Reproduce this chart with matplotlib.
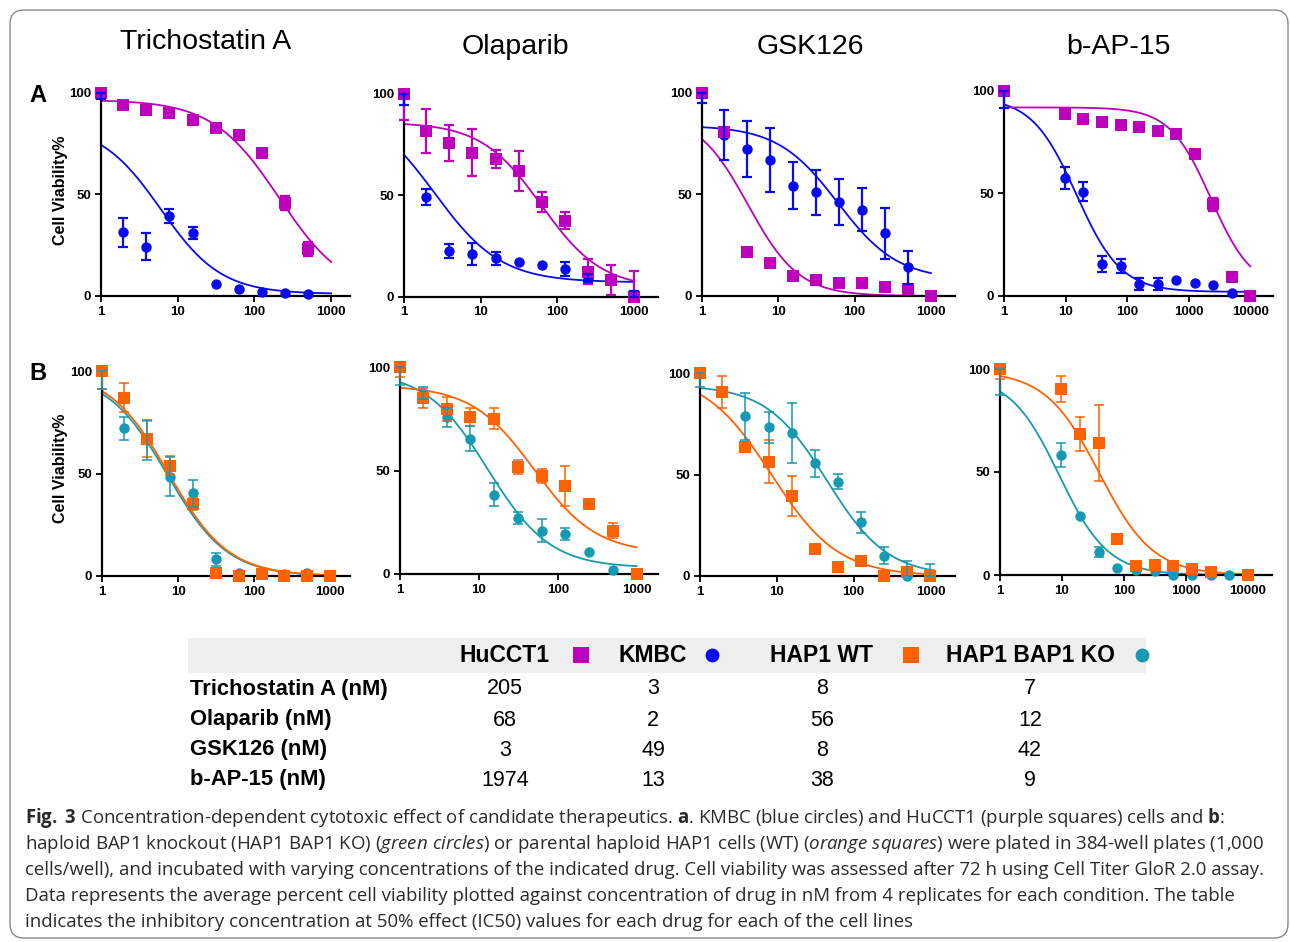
import numpy as np
import matplotlib.pyplot as plt
from matplotlib.patches import FancyBboxPatch, Rectangle
from matplotlib.lines import Line2D
from matplotlib.ticker import NullLocator
from matplotlib.transforms import IdentityTransform

plt.rcParams['font.family'] = ['Liberation Sans', 'DejaVu Sans']
plt.rcParams['mathtext.fontset'] = 'custom'
plt.rcParams['mathtext.rm'] = 'Open Sans'
plt.rcParams['mathtext.bf'] = 'Open Sans:bold'
plt.rcParams['mathtext.it'] = 'Open Sans:italic'

# concentrations (nM); first point is the untreated control drawn at 1
conc_1000 = [1, 1.95, 3.91, 7.81, 15.6, 31.3, 62.5, 125, 250, 500, 1000]
conc_10000 = [1, 9.77, 19.5, 39.1, 78.1, 156, 313, 625, 1250, 2500, 5000, 10000]

drugs = ["Trichostatin A", "Olaparib", "GSK126", "b-AP-15"]

# row A: HuCCT1 (squares) and KMBC (circles), viability % and SEM
tsa_hucct1 = [100, 93.9, 91.5, 90.2, 86.6, 82.5, 79.2, 70.2, 45.6, 23.0]
tsa_hucct1_err = [0, 0, 0, 0, 0, 0, 2, 0, 3.5, 3.5]
tsa_kmbc = [100, 31.3, 24.3, 39.5, 31.1, 5.7, 3.3, 2.1, 1.3, 1.0]
tsa_kmbc_err = [3.3, 7, 6.5, 3.5, 3, 0, 0, 0, 0, 0]

ola_hucct1 = [100, 81.7, 75.7, 71, 67.8, 62, 46.5, 37.5, 12.3, 8.2, 0]
ola_hucct1_err = [12.8, 10.8, 9, 11.6, 4.5, 10, 5, 4.4, 6.2, 7.4, 12.7]
ola_kmbc = [100, 49.3, 22.5, 20.9, 18.8, 16.9, 15.6, 13.7, 9, 8, 0]
ola_kmbc_err = [5.3, 4, 3.4, 5.5, 3.3, 0, 0, 3.5, 2, 0, 2.5]

gsk_hucct1 = [100, 80.7, 21.8, 16.1, 10, 7.9, 6.6, 6.2, 4.6, 3.4, 0]
gsk_hucct1_err = [0, 0, 0, 0, 0, 0, 0, 0, 0, 0, 0]
gsk_kmbc = [100, 79.2, 72.3, 66.9, 54.3, 51, 46.2, 42.6, 30.8, 14.1, 0]
gsk_kmbc_err = [5, 12.3, 13.8, 15.7, 11.5, 11, 11.2, 10.4, 12.6, 8, 0]

bap_hucct1 = [100, 88.6, 86.2, 84.7, 83.4, 82.6, 80.7, 79, 69.1, 44.7, 9.4, 0]
bap_hucct1_err = [0, 0, 0, 0, 0, 0, 0, 0, 0, 3, 0, 0]
bap_kmbc = [100, 57.7, 50.9, 15.6, 14.6, 6, 6, 7.8, 6.2, 5.4, 1.6, 0]
bap_kmbc_err = [8.5, 5.4, 4.7, 4, 3.4, 3, 3, 0, 0, 0, 0, 0]

# row B: HAP1 WT (squares) and HAP1 BAP1 KO (circles)
tsa_wt = [100, 87, 66.7, 53.7, 35.1, 1.6, 0, 0.8, 0.2, 0, 0]
tsa_wt_err = [9, 7, 8.8, 4.6, 3, 0, 0, 0, 0, 0, 0]
tsa_ko = [100, 72, 66.5, 48.5, 40.3, 8.1, 1.3, 1.6, 1, 1.3, 0]
tsa_ko_err = [9, 5.8, 9.8, 9.5, 6.5, 3, 0, 0, 0, 0, 0]

ola_wt = [100, 85, 79.7, 75.8, 75, 51.7, 47.5, 42.7, 34, 20.9, 0]
ola_wt_err = [4.7, 4.7, 6, 4.2, 5, 3.2, 3.4, 9.7, 0, 3.6, 0]
ola_ko = [100, 87.4, 75.7, 65.4, 38.3, 27, 20.9, 19.3, 10.6, 1.8, 0]
ola_ko_err = [8.5, 3, 4.6, 6, 5.6, 3, 5.6, 2.8, 0, 0, 0]

gsk_wt = [100, 90.5, 63.5, 56.4, 39.5, 13.2, 4.3, 7.4, 0.2, 1.8, 0.2]
gsk_wt_err = [0, 7.8, 0, 10.6, 9.8, 0, 0, 0, 0, 0, 3]
gsk_ko = [100, 91, 78.6, 73.2, 70.4, 55.6, 46.5, 26.5, 10, 0.2, 0]
gsk_ko_err = [7, 0, 11.5, 7.6, 14.8, 6.7, 3.6, 5.2, 4.3, 7, 5.8]

bap_wt = [100, 90.3, 68.6, 64, 17.5, 4.4, 4.9, 4.4, 2.8, 1.6, np.nan, 0]
bap_wt_err = [4.7, 6.4, 8.3, 18.3, 0, 0, 0, 0, 0, 0, 0, 0]
bap_ko = [100, 58.2, 28.4, 11, 3.2, 2.4, 1.9, 0, 0, 0, 0, 0]
bap_ko_err = [12.8, 5.7, 0, 2.4, 0, 0, 0, 0, 0, 0, 0, 0]

# fitted curves (top, bottom, IC50, hill)
tsa_hucct1_fit = (96.5, 0, 210, 1.0)
tsa_kmbc_fit = (84.5, 1, 6, 1.1)
ola_hucct1_fit = (86, 4, 62, 1.1)
ola_kmbc_fit = (95.2, 7, 2.5, 1.0)
gsk_hucct1_fit = (90, 0, 4, 1.3)
gsk_kmbc_fit = (84, 8, 60, 1.1)
bap_hucct1_fit = (92, 3, 2300, 1.3)
bap_kmbc_fit = (97, 2, 15, 1.2)
tsa_wt_fit = (100, 0, 7.5, 1.1)
tsa_ko_fit = (99, 0, 7.2, 1.1)
ola_wt_fit = (91, 10, 50, 1.1)
ola_ko_fit = (98, 3, 13, 1.1)
gsk_wt_fit = (100, 0, 8.5, 1.0)
gsk_ko_fit = (94, 0, 45, 1.1)
bap_wt_fit = (99, 0, 40, 1.0)
bap_ko_fit = (97, 0, 9, 1.1)

# IC50 table
table_rows = ["Trichostatin A (nM)", "Olaparib (nM)", "GSK126 (nM)", "b-AP-15 (nM)"]
cell_lines = ["HuCCT1", "KMBC", "HAP1 WT", "HAP1 BAP1 KO"]
ic50_hucct1 = [205, 68, 3, 1974]
ic50_kmbc = [3, 2, 49, 13]
ic50_hap1_wt = [8, 56, 8, 38]
ic50_hap1_ko = [7, 12, 42, 9]

PURPLE = '#BC00BC'
BLUE = '#0A0AF0'
ORANGE = '#FF6200'
TEAL = '#1699B2'

W, H = 1290, 942
fig = plt.figure(figsize=(W / 100, H / 100), dpi=100)


def add_px_axes(left, right, top, bottom):
    return fig.add_axes([left / W, 1 - bottom / H, (right - left) / W, (bottom - top) / H])


def draw_err(ax, x, y, e, color, lw):
    x, y, e = np.asarray(x, float), np.asarray(y, float), np.asarray(e, float)
    m = e > 0
    if not m.any():
        return
    lo = np.minimum(e, y)[m]
    hi = np.minimum(e, 100 - y)[m]
    c = ax.errorbar(x[m], y[m], yerr=[lo, hi], fmt='none', ecolor=color,
                    elinewidth=lw, capsize=3.8, capthick=lw, zorder=5)
    for a in list(c.lines[1]) + list(c.lines[2]):
        a.set_clip_on(False)


def panel(ax, conc, sq, sq_err, sq_fit, ci, ci_err, ci_fit, sq_col, ci_col, xend, xmax, elw):
    xs = np.logspace(0, np.log10(xend), 300)
    for (top, bottom, ic50, hill), col in ((ci_fit, ci_col), (sq_fit, sq_col)):
        ax.plot(xs, bottom + (top - bottom) / (1 + (xs / ic50) ** hill), color=col, lw=1.3, zorder=2)
    ax.plot(conc[:len(ci)], ci, 'o', color=ci_col, ms=7.5, mew=0, clip_on=False, zorder=3)
    ax.plot(conc[:len(sq)], sq, 's', color=sq_col, ms=8.5, mew=0, clip_on=False, zorder=4)
    draw_err(ax, conc[:len(sq)], sq, sq_err, sq_col, elw)
    draw_err(ax, conc[:len(ci)], ci, ci_err, ci_col, elw)
    ax.set_xscale('log')
    ax.set_xlim(1, xmax)
    ax.set_ylim(0, 100)
    if xend > 5000:
        ticks = [1, 10, 100, 1000, 10000]
    else:
        ticks = [1, 10, 100, 1000]
    ax.set_xticks(ticks)
    ax.set_xticklabels([str(t) for t in ticks])
    ax.xaxis.set_minor_locator(NullLocator())
    ax.set_yticks([0, 50, 100])
    ax.set_yticklabels(['0', '50', '100'])
    ax.tick_params(length=4, width=1.3, pad=3, labelsize=9.5, colors='black')
    for lbl in ax.get_xticklabels() + ax.get_yticklabels():
        lbl.set_fontweight('bold')
    for s in ('top', 'right'):
        ax.spines[s].set_visible(False)
    for s in ('left', 'bottom'):
        ax.spines[s].set_linewidth(1.6)
    ax.patch.set_alpha(0)


# pixel boxes: left, right, y of 100, y of 0, x-limit
boxes_a = [(101, 350, 92.7, 296, 1760), (404, 658, 94, 296.5, 2045),
           (702, 955, 93, 296, 2070), (1004, 1273, 91, 296, 23400)]
boxes_b = [(102, 350, 371, 576, 1820), (400, 658, 367, 574, 1860),
           (700, 955, 373, 576, 2090), (1000, 1272, 369, 575, 24500)]

row_a = [
    (conc_1000, tsa_hucct1, tsa_hucct1_err, tsa_hucct1_fit, tsa_kmbc, tsa_kmbc_err, tsa_kmbc_fit, 1000),
    (conc_1000, ola_hucct1, ola_hucct1_err, ola_hucct1_fit, ola_kmbc, ola_kmbc_err, ola_kmbc_fit, 1000),
    (conc_1000, gsk_hucct1, gsk_hucct1_err, gsk_hucct1_fit, gsk_kmbc, gsk_kmbc_err, gsk_kmbc_fit, 1000),
    (conc_10000, bap_hucct1, bap_hucct1_err, bap_hucct1_fit, bap_kmbc, bap_kmbc_err, bap_kmbc_fit, 10000),
]
row_b = [
    (conc_1000, tsa_wt, tsa_wt_err, tsa_wt_fit, tsa_ko, tsa_ko_err, tsa_ko_fit, 1000),
    (conc_1000, ola_wt, ola_wt_err, ola_wt_fit, ola_ko, ola_ko_err, ola_ko_fit, 1000),
    (conc_1000, gsk_wt, gsk_wt_err, gsk_wt_fit, gsk_ko, gsk_ko_err, gsk_ko_fit, 1000),
    (conc_10000, bap_wt, bap_wt_err, bap_wt_fit, bap_ko, bap_ko_err, bap_ko_fit, 10000),
]

for box, d in zip(boxes_a, row_a):
    ax = add_px_axes(box[0], box[1], box[2], box[3])
    panel(ax, d[0], d[1], d[2], d[3], d[4], d[5], d[6], PURPLE, BLUE, d[7], box[4], 1.6)
for box, d in zip(boxes_b, row_b):
    ax = add_px_axes(box[0], box[1], box[2], box[3])
    panel(ax, d[0], d[1], d[2], d[3], d[4], d[5], d[6], ORANGE, TEAL, d[7], box[4], 1.1)


def ftext(x, y, s, **kw):
    return fig.text(x / W, 1 - y / H, s, **kw)


# drug titles
for name, (x, y) in zip(drugs, [(206, 42), (515, 47), (810, 47), (1118, 47)]):
    ftext(x, y, name, fontsize=20.5, ha='center', va='center')

ftext(38, 95, 'A', fontsize=17, weight='bold', ha='center', va='center')
ftext(38, 373, 'B', fontsize=17, weight='bold', ha='center', va='center')
ftext(61, 190, 'Cell Viability%', fontsize=11.5, weight='bold', rotation=90, ha='center', va='center')
ftext(61, 468, 'Cell Viability%', fontsize=11.5, weight='bold', rotation=90, ha='center', va='center')

# IC50 table
fig.add_artist(Rectangle((188 / W, 1 - 673 / H), (1146 - 188) / W, 35 / H,
                         transform=fig.transFigure, facecolor='#efefef', edgecolor='none', zorder=0))
col_x = [505, 653, 822, 1030]
legend_marks = [(581, 's', PURPLE), (712, 'o', BLUE), (911, 's', ORANGE), (1142, 'o', TEAL)]
for name, x in zip(cell_lines, col_x):
    ftext(x, 655, name, fontsize=16.5, weight='bold', ha='center', va='center')
for x, mk, col in legend_marks:
    fig.add_artist(Line2D([x / W], [1 - 655 / H], transform=fig.transFigure, marker=mk,
                          color=col, ms=11 if mk == 's' else 10, mew=0, linestyle='none'))
row_y = [689, 720, 750, 780]
for i, (label, y) in enumerate(zip(table_rows, row_y)):
    ftext(190, y, label, fontsize=15.8, weight='bold', ha='left', va='center')
    for x, col_vals in zip(col_x, [ic50_hucct1, ic50_kmbc, ic50_hap1_wt, ic50_hap1_ko]):
        ftext(x, y, str(col_vals[i]), fontsize=15.5, ha='center', va='center')

# caption
cap_lines = [
    r"$\mathbf{Fig.}$ $\mathbf{3}$ Concentration-dependent cytotoxic effect of candidate therapeutics. $\mathbf{a}$. "
    r"KMBC (blue circles) and HuCCT1 (purple squares) cells and $\mathbf{b}$:",
    r"haploid BAP1 knockout (HAP1 BAP1 KO) ($\mathit{green\ circles}$) or parental haploid HAP1 cells (WT) "
    r"($\mathit{orange\ squares}$) were plated in 384-well plates (1,000",
    "cells/well), and incubated with varying concentrations of the indicated drug. Cell viability was "
    "assessed after 72 h using Cell Titer GloR 2.0 assay.",
    "Data represents the average percent cell viability plotted against concentration of drug in nM "
    "from 4 replicates for each condition. The table",
    "indicates the inhibitory concentration at 50% effect (IC50) values for each drug for each of the cell lines",
]
renderer = fig.canvas.get_renderer()
probe = fig.text(0, 0, cap_lines[2], fontsize=12, family='Open Sans')
cap_size = 12 * 1231 / probe.get_window_extent(renderer).width
probe.remove()
for line, y in zip(cap_lines, [818, 844, 870, 896, 922]):
    ftext(25, y, line, fontsize=cap_size, family='Open Sans', ha='left', va='center', color='#2a2a2a')

# rounded frame around the whole figure
fig.add_artist(FancyBboxPatch((10, 4), 1278, 928, boxstyle='round,pad=0,rounding_size=14',
                              transform=IdentityTransform(), facecolor='none',
                              edgecolor='#8a8a8a', linewidth=1))

fig.savefig('out.png', dpi=100)
